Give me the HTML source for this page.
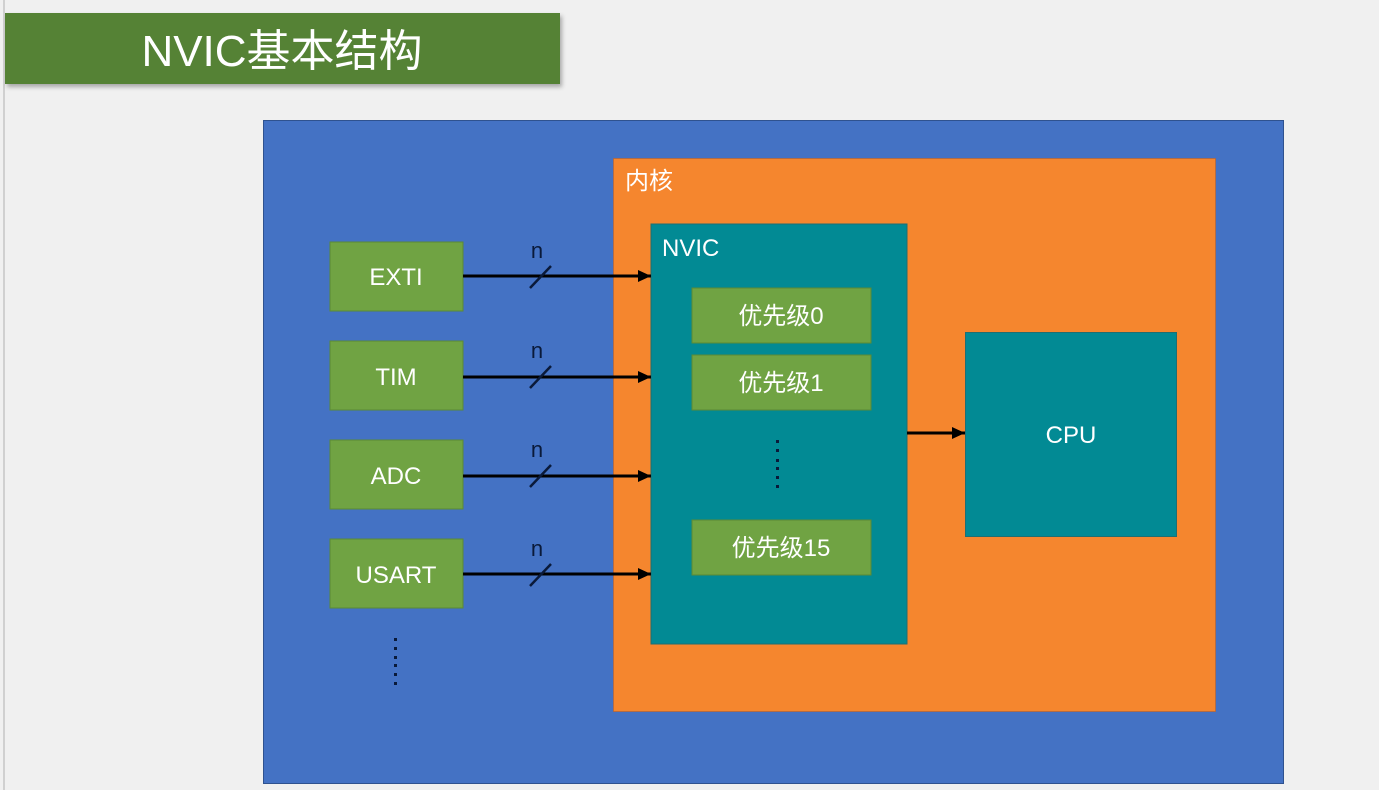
<!DOCTYPE html>
<html><head><meta charset="utf-8"><style>
html,body{margin:0;padding:0;background:#f0f0f0;}
svg{display:block}
text{font-family:"Liberation Sans","Noto Sans CJK SC",sans-serif;}
</style></head><body>
<svg width="1379" height="790" viewBox="0 0 1379 790" xmlns="http://www.w3.org/2000/svg">
<defs>
<marker id="ah" markerWidth="14" markerHeight="14" refX="13" refY="7" orient="auto" markerUnits="userSpaceOnUse">
<path d="M0,1 L13,7 L0,13 z" fill="#000"/>
</marker>
<filter id="sh" x="-5%" y="-20%" width="110%" height="150%"><feDropShadow dx="2" dy="3" stdDeviation="2" flood-color="#000" flood-opacity="0.3"/></filter>
</defs>
<rect x="0" y="0" width="1379" height="790" fill="#f0f0f0"/>
<rect x="3" y="0" width="2" height="790" fill="#d0d0d0"/>
<rect x="5" y="13" width="555" height="71" fill="#548235" filter="url(#sh)"/>
<text x="282" y="66" font-size="44" fill="#fff" text-anchor="middle">NVIC基本结构</text>

<rect x="263.5" y="120.5" width="1020" height="663" fill="#4472c4" stroke="#2f528f" stroke-width="1"/>
<rect x="613.5" y="158.5" width="602" height="553" fill="#f5862e" stroke="#c55a11" stroke-width="1" stroke-opacity="0.5"/>
<text x="625" y="189" font-size="24" fill="#fff">内核</text>
<rect x="651" y="224" width="256" height="420" fill="#028a94" stroke="#1f6f72" stroke-width="1"/>
<text x="662" y="256" font-size="24" fill="#fff">NVIC</text>

<g fill="#70a343" stroke="#5a8a36" stroke-width="1">
<rect x="692" y="288" width="179" height="55"/>
<rect x="692" y="355" width="179" height="55"/>
<rect x="692" y="520" width="179" height="55"/>
<rect x="330" y="242" width="133" height="69"/>
<rect x="330" y="341" width="133" height="69"/>
<rect x="330" y="440" width="133" height="69"/>
<rect x="330" y="539" width="133" height="69"/>
</g>
<g font-size="24" fill="#fff" text-anchor="middle">
<text x="781" y="324">优先级0</text>
<text x="781" y="391">优先级1</text>
<text x="781" y="556">优先级15</text>
<text x="396" y="285">EXTI</text>
<text x="396" y="385">TIM</text>
<text x="396" y="484">ADC</text>
<text x="396" y="583">USART</text>
</g>

<rect x="965.5" y="332.5" width="211" height="204" fill="#028a94" stroke="#1f6f72" stroke-width="1"/>
<text x="1071" y="443" font-size="24" fill="#fff" text-anchor="middle">CPU</text>

<g stroke="#000" stroke-width="3" fill="none">
<line x1="463" y1="276" x2="651" y2="276" marker-end="url(#ah)"/>
<line x1="463" y1="377" x2="651" y2="377" marker-end="url(#ah)"/>
<line x1="463" y1="476" x2="651" y2="476" marker-end="url(#ah)"/>
<line x1="463" y1="574" x2="651" y2="574" marker-end="url(#ah)"/>
<line x1="907" y1="433" x2="965" y2="433" marker-end="url(#ah)"/>
</g>
<g stroke="#0a1a3a" stroke-width="2.5">
<line x1="530" y1="288" x2="551" y2="266"/>
<line x1="530" y1="388" x2="551" y2="366"/>
<line x1="530" y1="487" x2="551" y2="465"/>
<line x1="530" y1="586" x2="551" y2="564"/>
</g>
<g font-size="22" fill="#0a1a3a" text-anchor="middle">
<text x="537" y="258">n</text>
<text x="537" y="358">n</text>
<text x="537" y="457">n</text>
<text x="537" y="556">n</text>
</g>
<g fill="#0a1a3a">
<rect x="394" y="638" width="3" height="3"/><rect x="394" y="647" width="3" height="3"/><rect x="394" y="656" width="3" height="3"/><rect x="394" y="664" width="3" height="3"/><rect x="394" y="673" width="3" height="3"/><rect x="394" y="682" width="3" height="3"/>
<rect x="776" y="440" width="3" height="3"/><rect x="776" y="449" width="3" height="3"/><rect x="776" y="459" width="3" height="3"/><rect x="776" y="467" width="3" height="3"/><rect x="776" y="476" width="3" height="3"/><rect x="776" y="485" width="3" height="3"/>
</g>
</svg>
</body></html>
